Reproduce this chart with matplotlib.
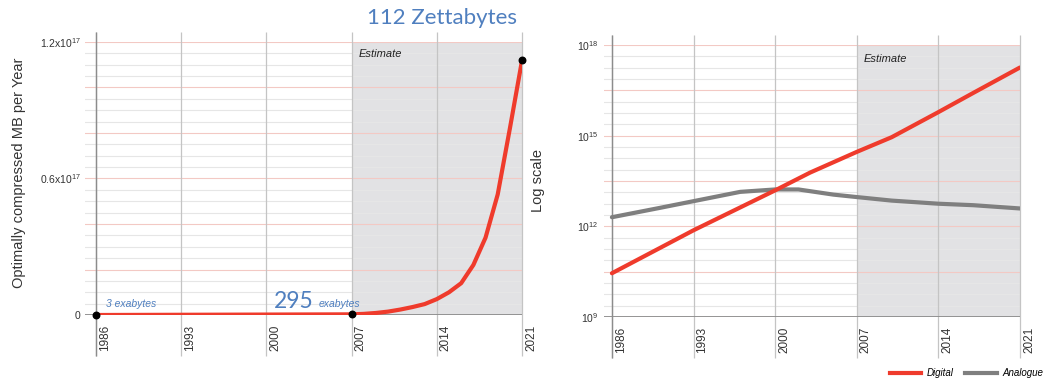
import numpy as np
import matplotlib
matplotlib.use("Agg")
import matplotlib.pyplot as plt
from matplotlib.lines import Line2D
from matplotlib.transforms import ScaledTranslation

plt.rcParams["font.family"] = ["Liberation Sans", "DejaVu Sans"]
plt.rcParams["mathtext.fontset"] = "custom"
plt.rcParams["mathtext.rm"] = "Liberation Sans"
plt.rcParams["mathtext.it"] = "Liberation Sans:italic"

# ---- data -------------------------------------------------------------
tick_years = [1986, 1993, 2000, 2007, 2014, 2021]
tick_labels = ["1986", "1993", "2000", "2007", "2014", "2021"]

# Total information per year, linear view (optimally compressed MB)
total_years = [1986, 2007, 2008, 2009, 2010, 2011, 2012, 2013, 2014,
               2015, 2016, 2017, 2018, 2019, 2020, 2021]
total_mb = [3e12, 2.95e14, 0.005e17, 0.009e17, 0.015e17, 0.024e17, 0.035e17,
            0.048e17, 0.07e17, 0.10e17, 0.14e17, 0.22e17, 0.34e17, 0.53e17,
            0.82e17, 1.12e17]
marked_years = [1986, 2007, 2021]
marked_mb = [3e12, 2.95e14, 1.12e17]

# Digital vs analogue, log view (MB per year)
digital_years = [1986, 1993, 2000, 2003, 2007, 2010, 2014, 2017, 2021]
digital_mb = [2.8e10, 7.4e11, 1.55e13, 6.0e13, 2.9e14, 8.9e14, 6.0e15,
              2.6e16, 1.8e17]
analogue_years = [1986, 1990, 1993, 1997, 2000, 2002, 2005, 2007, 2010,
                  2014, 2017, 2021]
analogue_mb = [2.0e12, 4.0e12, 6.8e12, 1.38e13, 1.66e13, 1.66e13, 1.12e13,
               9.3e12, 7.1e12, 5.6e12, 5.0e12, 3.9e12]

left_yticks = [0, 0.6e17, 1.2e17]
left_yticklabels = ["0", r"0.6x10$^{17}$", r"1.2x10$^{17}$"]
right_yticks = [1e9, 1e12, 1e15, 1e18]
right_yticklabels = [r"10$^{9}$", r"10$^{12}$", r"10$^{15}$", r"10$^{18}$"]

# ---- style ------------------------------------------------------------
RED = "#ef3b2c"
GREY_LINE = "#7f7f7f"
SHADE = "#e2e2e4"
MAJOR_GRID = "#f3c9c4"
MINOR_GRID = "#e6e6e6"
VGRID = "#c4c4c4"
AXIS = "#8c8c8c"
BLUE = "#4f7fbf"

fig = plt.figure(figsize=(10.46, 3.81), dpi=100)
axL = fig.add_axes([0.0813, 0.1732, 0.4178, 0.7166])
axR = fig.add_axes([0.5772, 0.1680, 0.3979, 0.7139])


def common(ax, x0):
    ax.set_xlim(x0, 2021)
    for s in ax.spines.values():
        s.set_visible(False)
    ax.axvspan(2007, 2021, color=SHADE, lw=0, zorder=0)
    ax.vlines(tick_years, -0.15, 1.037, transform=ax.get_xaxis_transform(),
              colors=VGRID, lw=0.9, clip_on=False, zorder=1)
    ax.vlines([tick_years[0]], -0.15, 1.037, transform=ax.get_xaxis_transform(),
              colors=AXIS, lw=1.0, clip_on=False, zorder=1.5)
    ax.axhline(ax.get_ylim()[0], color=AXIS, lw=1.3, zorder=1.6)
    ax.set_xticks(tick_years)
    ax.set_xticklabels(tick_labels, rotation=90, ha="left", va="top",
                       fontsize=8.5, color="#333333")
    ax.tick_params(axis="both", length=0)
    ax.tick_params(axis="x", pad=7)
    off = ScaledTranslation(3 / 100, 0, fig.dpi_scale_trans)
    for lbl in ax.get_xticklabels():
        lbl.set_transform(lbl.get_transform() + off)
    ax.text((2007.6 - x0) / (2021 - x0), 0.955 if ax is axL else 0.95,
            "Estimate", transform=ax.transAxes, fontsize=8, style="italic",
            color="#222222", va="center", ha="left")


# ---- left: linear scale ----------------------------------------------
axL.set_ylim(0, 1.2e17)
for v in np.arange(0, 1.2001e17, 0.05e17):
    major = abs((v / 0.2e17) - round(v / 0.2e17)) < 1e-6
    axL.axhline(v, color=MAJOR_GRID if major else MINOR_GRID,
                lw=0.8, zorder=0.5)
common(axL, 1985.1)
axL.plot(total_years, total_mb, color=RED, lw=3, solid_capstyle="round",
         zorder=3)
axL.scatter(marked_years, marked_mb, s=22, color="black", zorder=4,
            clip_on=False)
axL.set_yticks(left_yticks)
axL.set_yticklabels(left_yticklabels, fontsize=7.5, color="#333333")
axL.tick_params(axis="y", pad=3)
axL.set_ylabel("Optimally compressed MB per Year", fontsize=10.5,
               color="#333333")
axL.yaxis.set_label_coords(-0.135, 0.52)

axL.text(2020.6, 1.2e17 * 1.05, "112 Zettabytes", fontfamily="Lato",
         fontsize=16, color=BLUE, ha="right", va="bottom")
axL.text(1986.8, 0.05e17, "3 exabytes", fontsize=7.5, style="italic",
         color=BLUE, ha="left", va="center")
axL.text(2000.6, 0.06e17, "295", fontfamily="Lato", fontsize=16.5,
         color=BLUE, ha="left", va="center")
axL.text(2004.3, 0.05e17, "exabytes", fontsize=7.5, style="italic",
         color=BLUE, ha="left", va="center")

# ---- right: log scale -------------------------------------------------
axR.set_yscale("log")
axR.set_ylim(1e9, 1e18)
for e in np.arange(9, 18.001, 0.375):
    major = abs((e - 9) / 1.5 - round((e - 9) / 1.5)) < 1e-6
    axR.axhline(10 ** e, color=MAJOR_GRID if major else MINOR_GRID,
                lw=0.8, zorder=0.5)
common(axR, 1985.3)
axR.plot(analogue_years, analogue_mb, color=GREY_LINE, lw=3,
         solid_capstyle="round", zorder=3)
axR.plot(digital_years, digital_mb, color=RED, lw=3,
         solid_capstyle="round", zorder=3.5)
axR.set_yticks(right_yticks)
axR.set_yticklabels(right_yticklabels, fontsize=7.5, color="#333333")
axR.yaxis.set_minor_locator(matplotlib.ticker.NullLocator())
axR.tick_params(axis="y", pad=4)
axR.set_ylabel("Log scale", fontsize=10.5, color="#333333")
axR.yaxis.set_label_coords(-0.14, 0.5)

handles = [Line2D([], [], color=RED, lw=3),
           Line2D([], [], color=GREY_LINE, lw=3)]
fig.legend(handles, ["Digital", "Analogue"], loc="lower right",
           bbox_to_anchor=(1.003, -0.008), ncol=2, frameon=False,
           prop={"style": "italic", "size": 7}, handlelength=3.2,
           columnspacing=1.2, handletextpad=0.6, borderaxespad=0.2)

fig.savefig("out.png", dpi=100, facecolor="white")
